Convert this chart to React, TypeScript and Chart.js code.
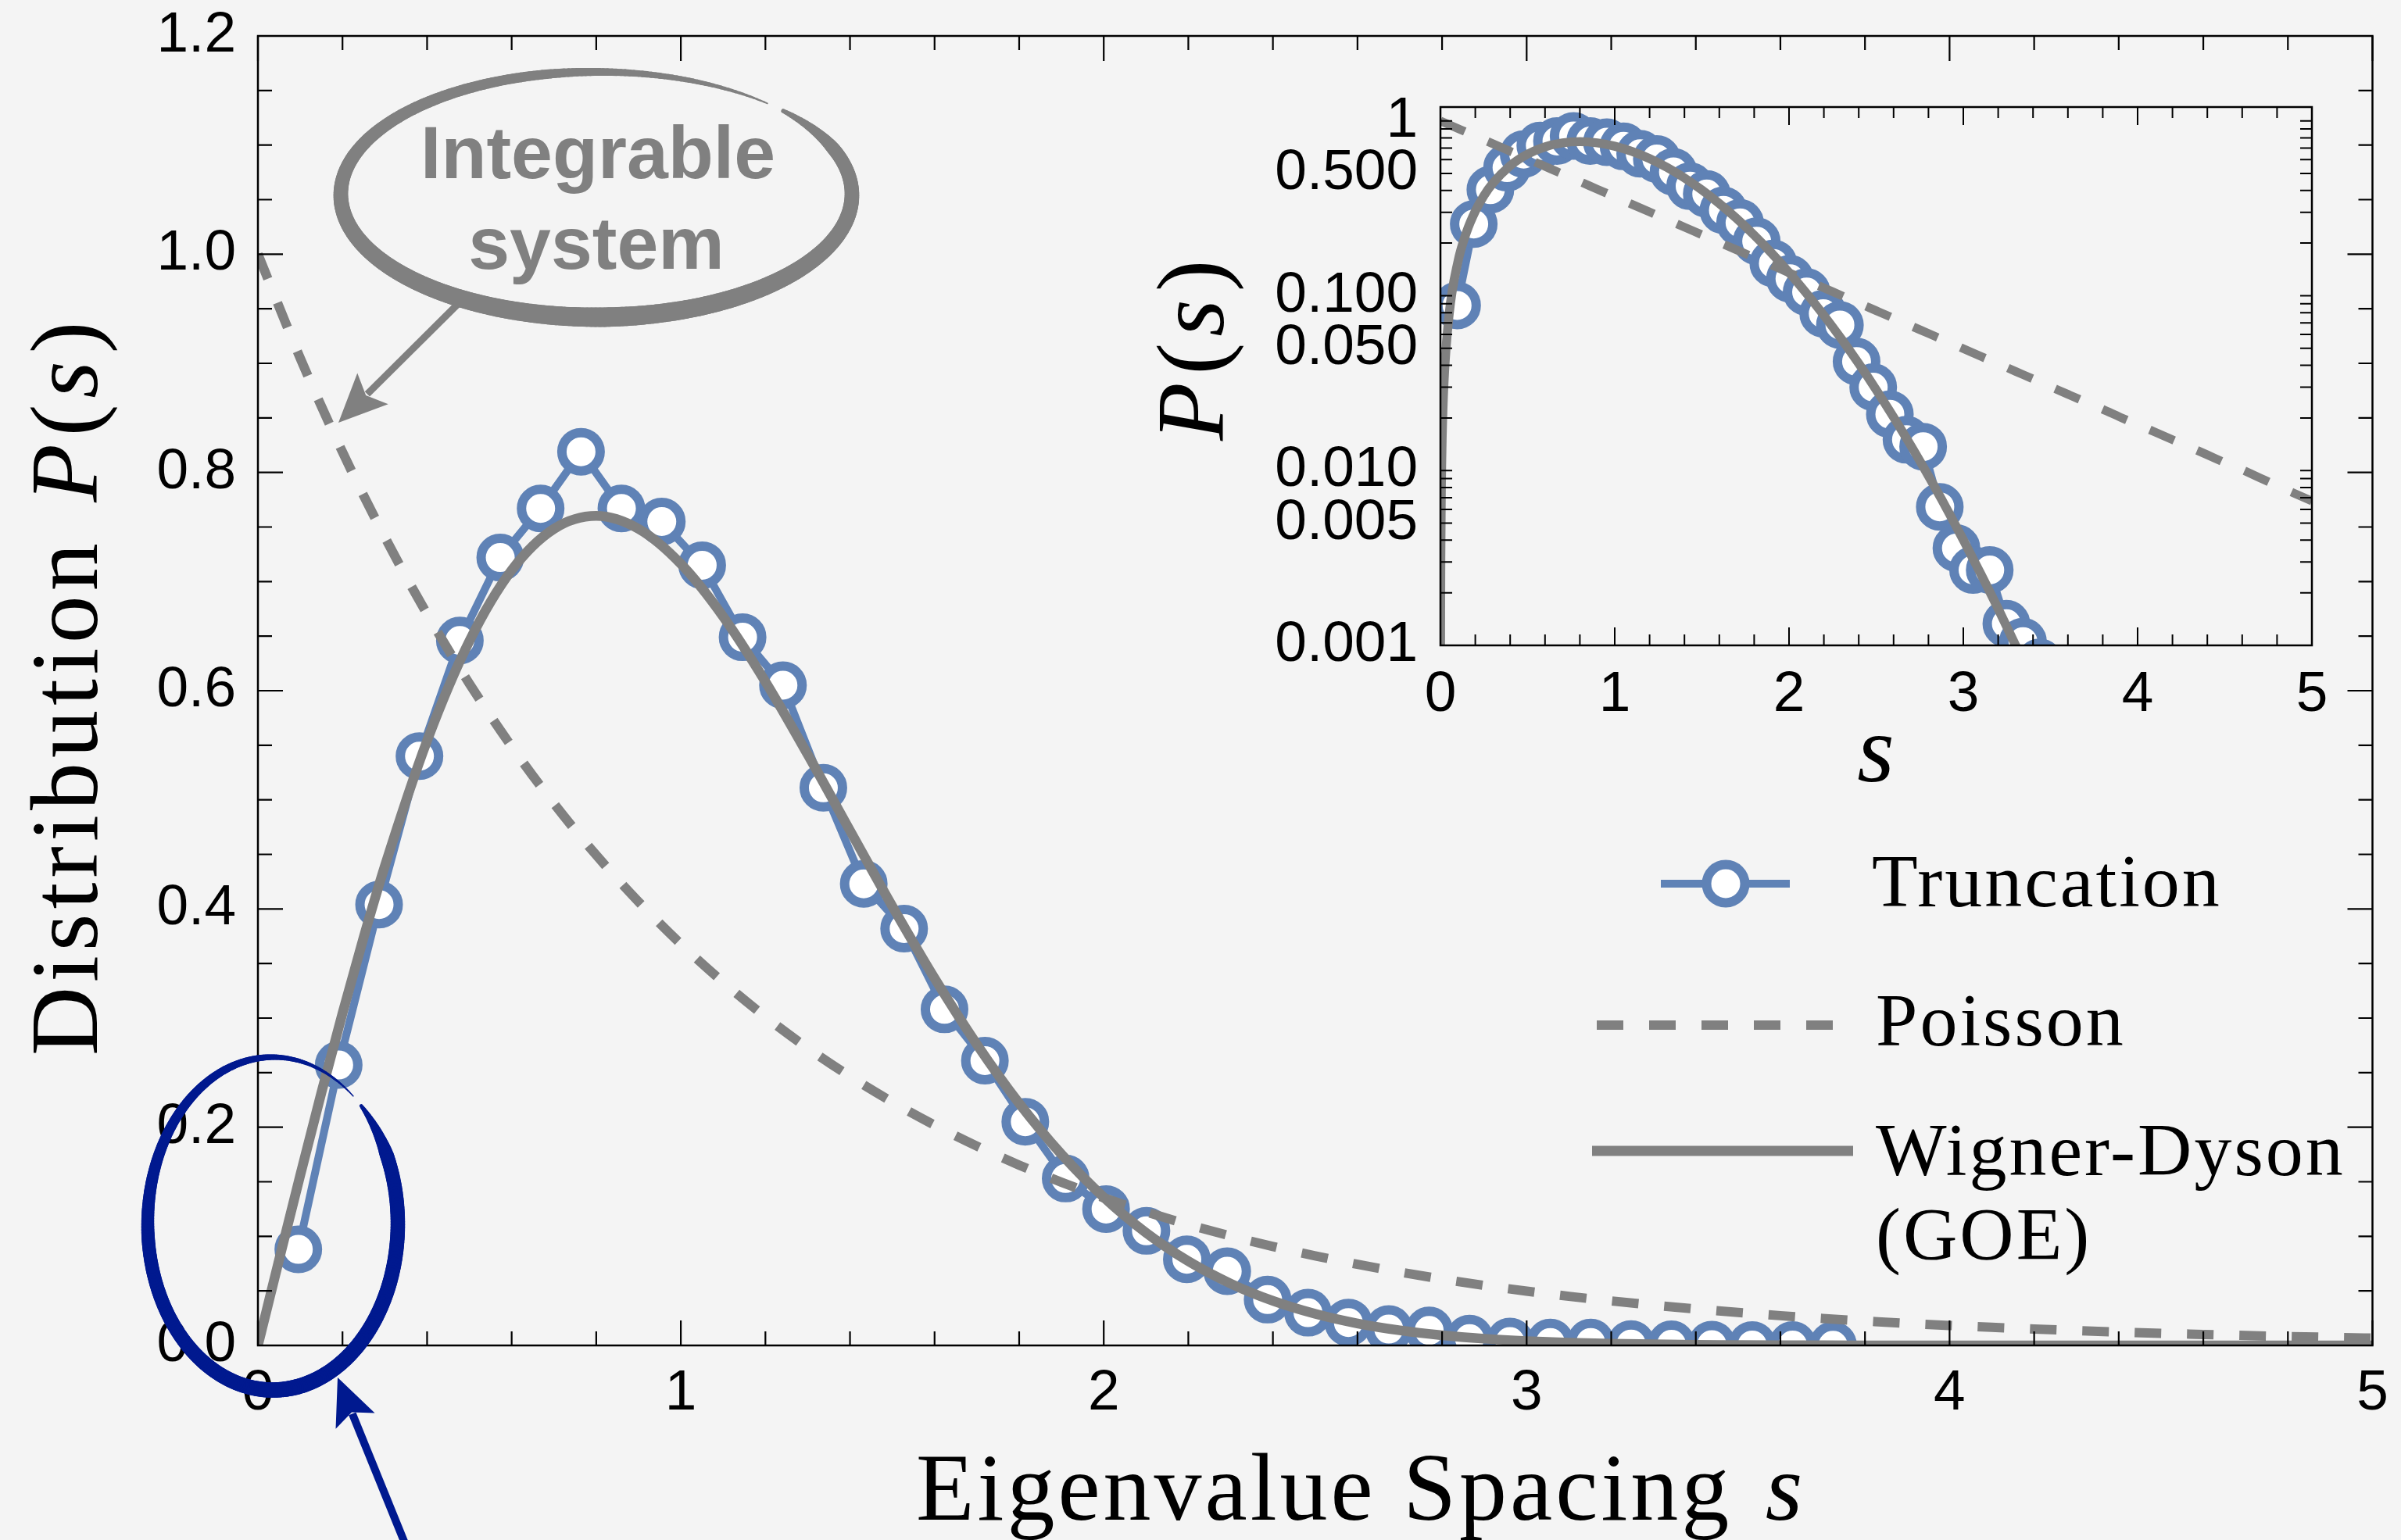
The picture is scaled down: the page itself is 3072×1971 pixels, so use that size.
import React, { useEffect, useRef } from 'react';
import { Chart, registerables } from 'chart.js';
Chart.register(...registerables);

const W = 3072;
const H = 1971;
const BG = '#f4f4f4';
const BLUE = '#5f82b6';
const GRAY = '#808080';
const NAVY = '#00198f';
const SANS = "'Liberation Sans', Arial, sans-serif";
const SERIF = "'Liberation Serif', 'Times New Roman', serif";

// ---- data: truncation histogram (circles) ----
const truncS = [0.0955, 0.191, 0.2865, 0.382, 0.4775, 0.573, 0.6685, 0.764, 0.8595, 0.955, 1.0505, 1.146, 1.2415,
  1.337, 1.4325, 1.528, 1.6235, 1.719, 1.8145, 1.91, 2.0055, 2.101, 2.1965, 2.292, 2.3875, 2.483, 2.5785, 2.674,
  2.7695, 2.865, 2.9605, 3.056, 3.1515, 3.247, 3.3425, 3.438, 3.5335, 3.629, 3.7245];
const truncP = [0.088, 0.257, 0.404, 0.540, 0.646, 0.722, 0.767, 0.819, 0.767, 0.755, 0.715, 0.649, 0.605,
  0.511, 0.423, 0.382, 0.308, 0.261, 0.205, 0.153, 0.125, 0.105, 0.079, 0.068, 0.042, 0.030, 0.021, 0.015,
  0.0137, 0.0062, 0.0036, 0.0027, 0.0027, 0.00133, 0.00105, 0.0008, 0.0004, 0.0003, 0.0002];

// ---- Poisson curve (dashed) ----
const poissonS = [0, 0.1, 0.2, 0.3, 0.4, 0.5, 0.6, 0.7, 0.8, 0.9, 1.0, 1.1, 1.2, 1.3, 1.4, 1.5, 1.6, 1.7, 1.8, 1.9,
  2.0, 2.1, 2.2, 2.3, 2.4, 2.5, 2.6, 2.7, 2.8, 2.9, 3.0, 3.1, 3.2, 3.3, 3.4, 3.5, 3.6, 3.7, 3.8, 3.9, 4.0, 4.1, 4.2,
  4.3, 4.4, 4.5, 4.6, 4.7, 4.8, 4.9, 5.0];
const poissonP = [1, 0.9048, 0.8187, 0.7408, 0.6703, 0.6065, 0.5488, 0.4966, 0.4493, 0.4066, 0.3679, 0.3329, 0.3012,
  0.2725, 0.2466, 0.2231, 0.2019, 0.1827, 0.1653, 0.1496, 0.1353, 0.1225, 0.1108, 0.1003, 0.0907, 0.0821, 0.0743,
  0.0672, 0.0608, 0.0550, 0.0498, 0.0450, 0.0408, 0.0369, 0.0334, 0.0302, 0.0273, 0.0247, 0.0224, 0.0202, 0.0183,
  0.0166, 0.0150, 0.0136, 0.0123, 0.0111, 0.0101, 0.0091, 0.0082, 0.0074, 0.0067];

// ---- Wigner-Dyson (GOE) curve (solid) ----
const goeS = [0, 0.0006, 0.001, 0.002, 0.005, 0.01, 0.02, 0.05, 0.1, 0.15, 0.2, 0.25, 0.3, 0.4, 0.5, 0.6, 0.7, 0.8,
  0.9, 1.0, 1.1, 1.2, 1.3, 1.4, 1.5, 1.6, 1.7, 1.8, 1.9, 2.0, 2.1, 2.2, 2.3, 2.4, 2.5, 2.6, 2.7, 2.8, 2.9, 3.0, 3.1,
  3.2, 3.3, 3.4, 3.5, 3.6, 3.7, 3.8, 3.9, 4.0, 4.5, 5.0];
const goeP = [0, 0.00094, 0.00157, 0.00314, 0.00785, 0.01571, 0.0314, 0.0784, 0.1559, 0.2315, 0.3044, 0.3739,
  0.4391, 0.5541, 0.6454, 0.7104, 0.7483, 0.7602, 0.7483, 0.7162, 0.6680, 0.6083, 0.5415, 0.4718, 0.4025, 0.3365,
  0.2759, 0.2219, 0.1752, 0.1358, 0.1033, 0.0772, 0.0567, 0.0409, 0.0290, 0.0202, 0.01384, 0.00931, 0.00617,
  0.00401, 0.00257, 0.00162, 0.00100, 0.00061, 0.00036, 0.00021, 0.00012, 0.00007, 0.00004, 0.00002, 0.0000009,
  0.00000002];

// ---- ticks ----
const mainXTicks = [0, 1, 2, 3, 4, 5];
const mainXLabels = ['0', '1', '2', '3', '4', '5'];
const mainYTicks = [0, 0.2, 0.4, 0.6, 0.8, 1.0, 1.2];
const mainYLabels = ['0.0', '0.2', '0.4', '0.6', '0.8', '1.0', '1.2'];
const insetYTicks = [0.001, 0.005, 0.01, 0.05, 0.1, 0.5, 1];
const insetYLabels = ['0.001', '0.005', '0.010', '0.050', '0.100', '0.500', '1'];

const legendLabels = ['Truncation', 'Poisson', 'Wigner-Dyson', '(GOE)'];

const pts = (xs: number[], ys: number[]) => xs.map((x, i) => ({ x, y: ys[i] }));

type Seg = { t: string; f: string; dx?: number };
function drawRich(ctx: CanvasRenderingContext2D, segs: Seg[], x: number, y: number, spacing: number) {
  let cx = x;
  for (const s of segs) {
    ctx.font = s.f;
    (ctx as any).letterSpacing = spacing + 'px';
    cx += s.dx || 0;
    ctx.fillText(s.t, cx, y);
    cx += ctx.measureText(s.t).width;
  }
  (ctx as any).letterSpacing = '0px';
}

function interp(tab: number[][], t: number) {
  for (let i = 1; i < tab.length; i++) {
    if (t <= tab[i][0]) {
      const [t0, w0] = tab[i - 1];
      const [t1, w1] = tab[i];
      return w0 + ((w1 - w0) * (t - t0)) / (t1 - t0);
    }
  }
  return tab[tab.length - 1][1];
}

function brushEllipse(ctx: CanvasRenderingContext2D, cx: number, cy: number, rx: number, ry: number,
  a0: number, a1: number, widths: number[][], color: string) {
  const N = 360;
  ctx.strokeStyle = color;
  ctx.lineCap = 'round';
  let px = cx + rx * Math.cos(a0);
  let py = cy + ry * Math.sin(a0);
  for (let i = 1; i <= N; i++) {
    const t = i / N;
    const a = a0 + (a1 - a0) * t;
    const x = cx + rx * Math.cos(a);
    const y = cy + ry * Math.sin(a);
    ctx.lineWidth = interp(widths, t);
    ctx.beginPath();
    ctx.moveTo(px, py);
    ctx.lineTo(x, y);
    ctx.stroke();
    px = x;
    py = y;
  }
}

function arrow(ctx: CanvasRenderingContext2D, x0: number, y0: number, x1: number, y1: number, color: string,
  lw: number, hl: number, hw: number) {
  const dx = x1 - x0, dy = y1 - y0;
  const L = Math.hypot(dx, dy);
  const ux = dx / L, uy = dy / L;
  const bx = x1 - ux * hl, by = y1 - uy * hl;
  ctx.strokeStyle = color;
  ctx.lineWidth = lw;
  ctx.lineCap = 'butt';
  ctx.beginPath();
  ctx.moveTo(x0, y0);
  ctx.lineTo(bx + ux * 10, by + uy * 10);
  ctx.stroke();
  ctx.fillStyle = color;
  ctx.beginPath();
  ctx.moveTo(x1, y1);
  ctx.lineTo(bx - uy * hw, by + ux * hw);
  ctx.lineTo(bx + ux * hl * 0.2, by + uy * hl * 0.2);
  ctx.lineTo(bx + uy * hw, by - ux * hw);
  ctx.closePath();
  ctx.fill();
}

const noPad = (s: any) => {
  s.paddingTop = 0;
  s.paddingBottom = 0;
  s.paddingLeft = 0;
  s.paddingRight = 0;
};

const mainFrame = {
  id: 'mainFrame',
  afterDatasetsDraw(chart: any) {
    const { ctx, chartArea: a, scales: { x, y } } = chart;
    ctx.save();
    ctx.setLineDash([]);
    ctx.strokeStyle = '#000';
    ctx.lineWidth = 2.5;
    ctx.strokeRect(a.left, a.top, a.right - a.left, a.bottom - a.top);
    ctx.lineWidth = 2.2;
    ctx.beginPath();
    for (let i = 0; i <= 25; i++) {
      const px = x.getPixelForValue(i * 0.2);
      const L = i % 5 === 0 ? 32 : 18;
      ctx.moveTo(px, a.bottom); ctx.lineTo(px, a.bottom - L);
      ctx.moveTo(px, a.top); ctx.lineTo(px, a.top + L);
    }
    for (let i = 0; i <= 24; i++) {
      const py = y.getPixelForValue(i * 0.05);
      const L = i % 4 === 0 ? 32 : 18;
      ctx.moveTo(a.left, py); ctx.lineTo(a.left + L, py);
      ctx.moveTo(a.right, py); ctx.lineTo(a.right - L, py);
    }
    ctx.stroke();
    ctx.restore();
  },
};

const mainDecor = {
  id: 'mainDecor',
  afterDraw(chart: any) {
    const ctx: CanvasRenderingContext2D = chart.ctx;
    ctx.save();
    ctx.setLineDash([]);
    // axis titles
    ctx.fillStyle = '#000';
    ctx.textBaseline = 'alphabetic';
    ctx.textAlign = 'left';
    const up = `122px ${SERIF}`;
    const it = `italic 122px ${SERIF}`;
    drawRich(ctx, [{ t: 'Eigenvalue Spacing ', f: up }, { t: 's', f: it, dx: 8 }], 1172, 1945, 4);
    ctx.save();
    ctx.translate(124, 1351);
    ctx.rotate(-Math.PI / 2);
    drawRich(ctx, [{ t: 'Distribution ', f: up }, { t: 'P', f: it, dx: 10 }, { t: '(', f: up, dx: 4 },
      { t: 's', f: it, dx: 2 }, { t: ')', f: up, dx: 4 }], 0, 0, 6);
    ctx.restore();

    // legend
    const lf = `96px ${SERIF}`;
    ctx.lineCap = 'butt';
    ctx.strokeStyle = BLUE;
    ctx.lineWidth = 10;
    ctx.beginPath(); ctx.moveTo(2125, 1131); ctx.lineTo(2290, 1131); ctx.stroke();
    ctx.beginPath(); ctx.arc(2208, 1131, 24.5, 0, Math.PI * 2);
    ctx.fillStyle = '#fff'; ctx.fill();
    ctx.lineWidth = 12; ctx.stroke();
    ctx.strokeStyle = GRAY;
    ctx.lineWidth = 12;
    ctx.setLineDash([34, 33]);
    ctx.beginPath(); ctx.moveTo(2043, 1312); ctx.lineTo(2345, 1312); ctx.stroke();
    ctx.setLineDash([]);
    ctx.lineWidth = 13;
    ctx.beginPath(); ctx.moveTo(2037, 1473); ctx.lineTo(2371, 1473); ctx.stroke();
    ctx.fillStyle = '#000';
    drawRich(ctx, [{ t: legendLabels[0], f: lf }], 2395, 1160, 3);
    drawRich(ctx, [{ t: legendLabels[1], f: lf }], 2400, 1338, 3);
    drawRich(ctx, [{ t: legendLabels[2], f: lf }], 2400, 1504, 3);
    drawRich(ctx, [{ t: legendLabels[3], f: lf }], 2400, 1612, 3);

    // "Integrable system" callout
    brushEllipse(ctx, 763, 249, 327, 157, (-43 * Math.PI) / 180, (312 * Math.PI) / 180,
      [[0, 5], [0.06, 17], [0.37, 25], [0.62, 19], [0.85, 12], [0.95, 6], [1, 2]], GRAY);
    ctx.fillStyle = GRAY;
    ctx.textAlign = 'center';
    ctx.font = `bold 95px ${SANS}`;
    ctx.fillText('Integrable', 765, 228);
    ctx.fillText('system', 763, 344);
    arrow(ctx, 593, 382, 433, 541, GRAY, 9, 62, 28);

    // blue circle at origin
    brushEllipse(ctx, 349, 1566, 160, 213, (-45 * Math.PI) / 180, (310 * Math.PI) / 180,
      [[0, 4], [0.06, 18], [0.35, 20], [0.62, 17], [0.85, 9], [0.95, 4], [1, 1.5]], NAVY);
    arrow(ctx, 522, 1985, 432, 1763, NAVY, 10, 60, 27);
    ctx.restore();
  },
};

const insetFrame = {
  id: 'insetFrame',
  afterDatasetsDraw(chart: any) {
    const { ctx, chartArea: a, scales: { x, y } } = chart;
    ctx.save();
    ctx.setLineDash([]);
    ctx.strokeStyle = '#000';
    ctx.lineWidth = 2.5;
    ctx.strokeRect(a.left, a.top, a.right - a.left, a.bottom - a.top);
    ctx.lineWidth = 2;
    ctx.beginPath();
    for (let i = 0; i <= 25; i++) {
      const px = x.getPixelForValue(i * 0.2);
      const L = i % 5 === 0 ? 23 : 14;
      ctx.moveTo(px, a.bottom); ctx.lineTo(px, a.bottom - L);
      ctx.moveTo(px, a.top); ctx.lineTo(px, a.top + L);
    }
    const yv: number[] = [];
    for (const d of [0.001, 0.01, 0.1]) for (let m = 1; m <= 9; m++) yv.push(m * d);
    yv.push(1);
    for (const v of yv) {
      const py = y.getPixelForValue(v);
      ctx.moveTo(a.left, py); ctx.lineTo(a.left + 15, py);
      ctx.moveTo(a.right, py); ctx.lineTo(a.right - 15, py);
    }
    ctx.stroke();
    // titles
    ctx.fillStyle = '#000';
    ctx.textBaseline = 'alphabetic';
    ctx.textAlign = 'left';
    const up = `122px ${SERIF}`;
    const it = `italic 122px ${SERIF}`;
    ctx.save();
    ctx.translate(1565, 564);
    ctx.rotate(-Math.PI / 2);
    drawRich(ctx, [{ t: 'P', f: it }, { t: '(', f: up, dx: 4 }, { t: 's', f: it, dx: 2 }, { t: ')', f: up, dx: 4 }], 0, 0, 6);
    ctx.restore();
    ctx.textAlign = 'center';
    ctx.font = it;
    ctx.fillText('s', 2400, 1000);
    ctx.restore();
  },
};

const tickFont = { family: SANS, size: 73 };

function mainConfig(): any {
  return {
    type: 'line',
    data: {
      datasets: [
        {
          label: 'Truncation', data: pts(truncS, truncP), borderColor: BLUE, borderWidth: 10,
          borderJoinStyle: 'round', pointRadius: 24.5, pointBorderWidth: 12, pointBackgroundColor: '#fff',
          pointBorderColor: BLUE, pointHoverRadius: 24.5, tension: 0, clip: 0, order: 3,
        },
        {
          label: 'Poisson', data: pts(poissonS, poissonP), borderColor: GRAY, borderWidth: 12,
          borderDash: [34, 33], pointRadius: 0, cubicInterpolationMode: 'monotone', clip: 0, order: 2,
        },
        {
          label: 'Wigner-Dyson (GOE)', data: pts(goeS, goeP), borderColor: GRAY, borderWidth: 12.5,
          pointRadius: 0, cubicInterpolationMode: 'monotone', clip: 0, order: 1,
        },
      ],
    },
    options: {
      responsive: false, animation: false, devicePixelRatio: 1, events: [],
      layout: { padding: { left: 0, top: 46, right: 19, bottom: 0 } },
      plugins: { legend: { display: false }, tooltip: { enabled: false } },
      scales: {
        x: {
          type: 'linear', min: 0, max: 5,
          grid: { display: false, drawTicks: false }, border: { display: false },
          afterBuildTicks: (s: any) => { s.ticks = mainXTicks.map((v) => ({ value: v })); },
          afterFit: (s: any) => { s.height = H - 1722; noPad(s); },
          ticks: {
            callback: (_v: any, i: number) => mainXLabels[i], font: tickFont, color: '#000', padding: 18,
            maxRotation: 0, autoSkip: false,
          },
        },
        y: {
          type: 'linear', min: 0, max: 1.2,
          grid: { display: false, drawTicks: false }, border: { display: false },
          afterBuildTicks: (s: any) => { s.ticks = mainYTicks.map((v) => ({ value: v })); },
          afterFit: (s: any) => { s.width = 330; noPad(s); },
          ticks: { callback: (_v: any, i: number) => mainYLabels[i], font: tickFont, color: '#000', padding: 28, autoSkip: false },
        },
      },
    },
    plugins: [mainFrame, mainDecor],
  };
}

function insetConfig(): any {
  return {
    type: 'line',
    data: {
      datasets: [
        {
          label: 'Truncation', data: pts(truncS, truncP), borderColor: BLUE, borderWidth: 10,
          borderJoinStyle: 'round', pointRadius: 24.5, pointBorderWidth: 12, pointBackgroundColor: '#fff',
          pointBorderColor: BLUE, pointHoverRadius: 24.5, tension: 0, clip: 0, order: 3,
        },
        {
          label: 'Poisson', data: pts(poissonS, poissonP), borderColor: GRAY, borderWidth: 11,
          borderDash: [34, 32], pointRadius: 0, cubicInterpolationMode: 'monotone', clip: 0, order: 2,
        },
        {
          label: 'Wigner-Dyson (GOE)', data: pts(goeS, goeP), borderColor: GRAY, borderWidth: 11.5,
          pointRadius: 0, cubicInterpolationMode: 'monotone', clip: 0, order: 1,
        },
      ],
    },
    options: {
      responsive: false, animation: false, devicePixelRatio: 1, events: [],
      layout: { padding: { left: 0, top: 137, right: W - 2958, bottom: 0 } },
      plugins: { legend: { display: false }, tooltip: { enabled: false } },
      scales: {
        x: {
          type: 'linear', min: 0, max: 5,
          grid: { display: false, drawTicks: false }, border: { display: false },
          afterBuildTicks: (s: any) => { s.ticks = mainXTicks.map((v) => ({ value: v })); },
          afterFit: (s: any) => { s.height = H - 826; noPad(s); },
          ticks: {
            callback: (_v: any, i: number) => mainXLabels[i], font: tickFont, color: '#000', padding: 20,
            maxRotation: 0, autoSkip: false,
          },
        },
        y: {
          type: 'logarithmic', min: 0.001, max: 1.2,
          grid: { display: false, drawTicks: false }, border: { display: false },
          afterBuildTicks: (s: any) => { s.ticks = insetYTicks.map((v) => ({ value: v })); },
          afterFit: (s: any) => { s.width = 1843; noPad(s); },
          ticks: { callback: (_v: any, i: number) => insetYLabels[i], font: tickFont, color: '#000', padding: 29, autoSkip: false },
        },
      },
    },
    plugins: [insetFrame],
  };
}

export default function App() {
  const mainRef = useRef<HTMLCanvasElement>(null);
  const insetRef = useRef<HTMLCanvasElement>(null);
  useEffect(() => {
    const main = new Chart(mainRef.current as HTMLCanvasElement, mainConfig());
    const inset = new Chart(insetRef.current as HTMLCanvasElement, insetConfig());
    return () => {
      main.destroy();
      inset.destroy();
    };
  }, []);
  return (
    <div style={{ position: 'absolute', left: 0, top: 0, width: W, height: H, background: BG, overflow: 'hidden' }}>
      <canvas ref={mainRef} width={W} height={H} style={{ position: 'absolute', left: 0, top: 0 }} />
      <canvas ref={insetRef} width={W} height={H} style={{ position: 'absolute', left: 0, top: 0 }} />
    </div>
  );
}
